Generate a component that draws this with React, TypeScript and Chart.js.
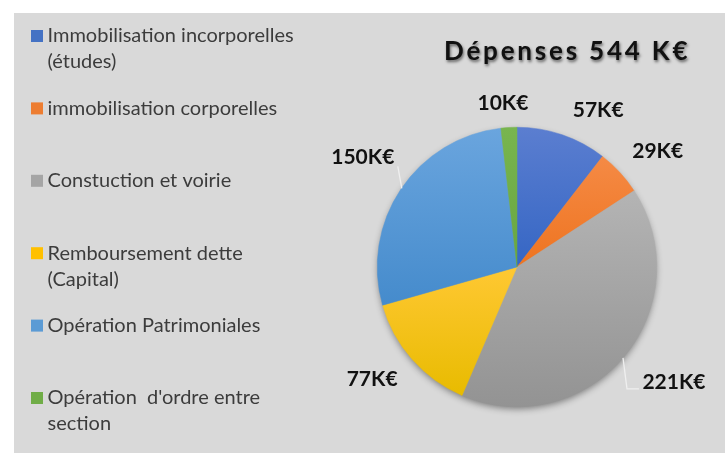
import React, { useEffect, useRef } from "react";
import { Chart, registerables } from "chart.js";

Chart.register(...registerables);

const chartTitle = "Dépenses 544 K€";
const categories = [
  ["Immobilisation incorporelles", "(études)"],
  ["immobilisation corporelles"],
  ["Constuction et voirie"],
  ["Remboursement dette", "(Capital)"],
  ["Opération Patrimoniales"],
  ["Opération  d'ordre entre", "section"],
];
const values = [57, 29, 221, 77, 150, 10];
const valueLabels = ["57K€", "29K€", "221K€", "77K€", "150K€", "10K€"];

const baseColors = ["#4472C4", "#ED7D31", "#A5A5A5", "#FFC000", "#5B9BD5", "#70AD47"];
const topColors = ["#5b7ed0", "#f58a45", "#b4b4b4", "#ffc833", "#6aa5de", "#78b54f"];
const bottomColors = ["#3566c4", "#ee7420", "#939393", "#e8bb00", "#458bcc", "#68a640"];

const FONT = "Lato, Carlito, Calibri, sans-serif";
const labelOffsets = [[36, -25], [38, -21], [50, 25], [-40, 20], [-38, -32], [-6, -24]];

const sceneryPlugin = {
  id: "scenery",
  beforeDraw(chart: any) {
    const { ctx, width, height } = chart;
    ctx.save();
    ctx.fillStyle = "#ffffff";
    ctx.fillRect(0, 0, width, height);
    ctx.fillStyle = "#d9d9d9";
    ctx.fillRect(14, 13, width - 14, height - 13);
    ctx.restore();
  },
  beforeDatasetsDraw(chart: any) {
    const { ctx } = chart;
    const arcs = chart.getDatasetMeta(0).data;
    if (!arcs.length) return;
    const { x, y, outerRadius } = arcs[0];
    ctx.save();
    ctx.shadowColor = "rgba(0,0,0,0.45)";
    ctx.shadowBlur = 7;
    ctx.shadowOffsetY = 3;
    ctx.fillStyle = "#a0a0a0";
    ctx.beginPath();
    ctx.arc(x, y, outerRadius - 1, 0, Math.PI * 2);
    ctx.fill();
    ctx.restore();

    arcs.forEach((arc: any, i: number) => {
      let top = arc.y;
      let bottom = arc.y;
      for (let s = 0; s <= 40; s++) {
        const a = arc.startAngle + ((arc.endAngle - arc.startAngle) * s) / 40;
        const py = arc.y + Math.sin(a) * arc.outerRadius;
        top = Math.min(top, py);
        bottom = Math.max(bottom, py);
      }
      const g = ctx.createLinearGradient(0, top, 0, bottom);
      g.addColorStop(0, topColors[i]);
      g.addColorStop(1, bottomColors[i]);
      arc.options = { ...arc.options, backgroundColor: g, borderColor: g };
    });
  },
  afterDatasetsDraw(chart: any) {
    const { ctx } = chart;
    const arcs = chart.getDatasetMeta(0).data;

    ctx.save();
    ctx.textBaseline = "middle";

    // Title
    ctx.save();
    ctx.font = `bold 26px ${FONT}`;
    (ctx as any).letterSpacing = "2.8px";
    ctx.textAlign = "left";
    ctx.fillStyle = "#111111";
    ctx.shadowColor = "rgba(0,0,0,0.55)";
    ctx.shadowBlur = 3;
    ctx.shadowOffsetX = 1;
    ctx.shadowOffsetY = 2;
    ctx.fillText(chartTitle, 444, 52);
    ctx.restore();

    // Legend
    categories.forEach((lines, i) => {
      const cy = 36 + 72.4 * i;
      ctx.fillStyle = baseColors[i];
      ctx.fillRect(31, cy - 6, 12, 12);
      ctx.fillStyle = "#3c3c3c";
      ctx.font = `20px ${FONT}`;
      ctx.textAlign = "left";
      lines.forEach((line, j) => ctx.fillText(line, 47.5, cy + j * 26));
    });

    // Leader lines and value labels
    arcs.forEach((arc: any, i: number) => {
      const mid = (arc.startAngle + arc.endAngle) / 2;
      const ox = arc.x + Math.cos(mid) * arc.outerRadius;
      const oy = arc.y + Math.sin(mid) * arc.outerRadius;
      ctx.strokeStyle = "#efefef";
      ctx.lineWidth = 1.3;
      if (i === 2) {
        ctx.beginPath();
        ctx.moveTo(ox - 1, oy + 1);
        ctx.lineTo(ox + 3, oy + 32);
        ctx.lineTo(ox + 15, oy + 32);
        ctx.stroke();
      }
      if (i === 4) {
        ctx.beginPath();
        ctx.moveTo(ox + 1, oy - 1);
        ctx.lineTo(ox - 3, oy - 23);
        ctx.stroke();
      }
      ctx.fillStyle = "#111111";
      ctx.font = `bold 21px ${FONT}`;
      ctx.textAlign = "center";
      ctx.fillText(valueLabels[i], ox + labelOffsets[i][0], oy + labelOffsets[i][1]);
    });
    ctx.restore();
  },
};

export default function App() {
  const ref = useRef<HTMLCanvasElement>(null);
  useEffect(() => {
    const chart = new Chart(ref.current as HTMLCanvasElement, {
      type: "pie",
      data: {
        labels: categories.map((c) => c.join(" ")),
        datasets: [{ data: values, backgroundColor: baseColors, borderWidth: 0.5 }],
      },
      options: {
        animation: false,
        responsive: false,
        layout: { padding: { left: 377, right: 68, top: 127, bottom: 46 } },
        plugins: { legend: { display: false }, title: { display: false }, tooltip: { enabled: false } },
      },
      plugins: [sceneryPlugin],
    } as any);
    return () => chart.destroy();
  }, []);
  return (
    <canvas
      ref={ref}
      width={725}
      height={453}
      style={{ position: "absolute", left: 0, top: 0, display: "block", filter: "blur(0.4px)" }}
    />
  );
}
